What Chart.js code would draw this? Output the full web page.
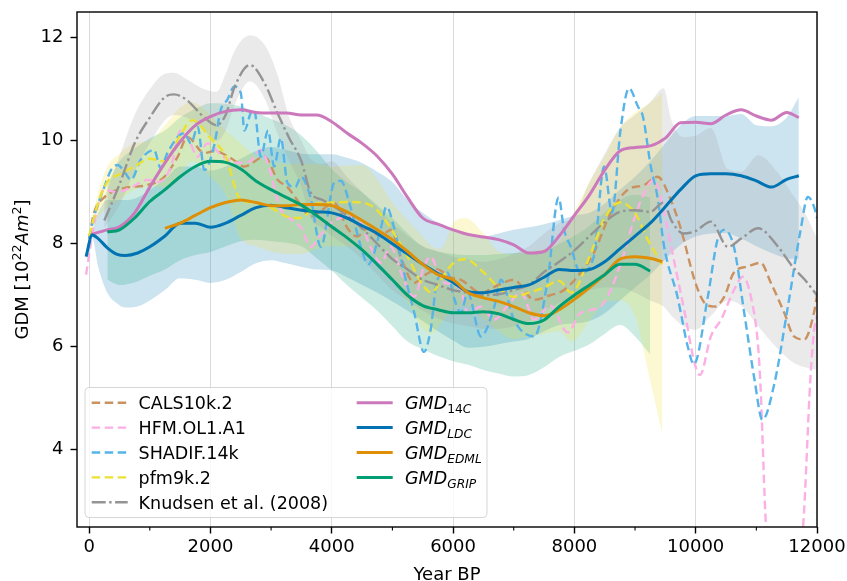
<!DOCTYPE html>
<html>
<head>
<meta charset="utf-8">
<title>GDM over the Holocene</title>
<script src="https://cdn.jsdelivr.net/npm/chart.js@4.4.0/dist/chart.umd.min.js"></script>
<style>
  html, body { margin: 0; padding: 0; background: #fff; }
  #wrap { width: 847px; height: 581px; }
</style>
</head>
<body>
<div id="wrap"><canvas id="gdmChart" width="847" height="581"></canvas></div>
<script>
// ---- axis ticks ----
const yearTicks = [0, 2000, 4000, 6000, 8000, 10000, 12000];
const minorYearTicks = [1000, 3000, 5000, 7000, 9000, 11000];
const gdmTicks = [4, 6, 8, 10, 12];

// ---- field models (years BP, GDM in 10^22 Am^2) ----
const calsYears = [0, 80, 250, 580, 960, 1240, 1460, 1620, 1900, 2060, 2340, 2560, 2890, 3110, 3270, 3430, 3655, 4040, 4260, 4420, 4590, 4800, 4975, 5150, 5360, 5550, 5740, 5950, 6130, 6460, 6750, 7000, 7340, 7600, 7830, 8105, 8320, 8600, 8880, 9150, 9370, 9590, 9760, 9980, 10140, 10310, 10470, 10630, 10860, 11070, 11240, 11460, 11620, 11790, 11950, 12000];
const calsGdm = [8.1, 8.6, 8.9, 9.08, 9.14, 9.3, 9.69, 10.07, 9.76, 9.8, 9.66, 9.5, 9.69, 9.24, 9.1, 8.85, 8.53, 8.79, 8.3, 8.14, 8.3, 8.15, 8.27, 7.7, 7.24, 7.4, 7.5, 7.35, 7.3, 7.05, 7.2, 7.3, 6.91, 7.0, 7.1, 7.44, 7.82, 8.6, 9.05, 9.14, 9.3, 8.85, 8.27, 7.3, 6.86, 6.78, 6.97, 7.44, 7.56, 7.63, 7.24, 6.66, 6.2, 6.14, 6.66, 7.0];

const hfmYears = [-50, 40, 140, 250, 450, 700, 960, 1150, 1350, 1510, 1650, 1790, 1950, 2200, 2450, 2650, 2830, 2940, 3160, 3300, 3500, 3655, 3800, 3985, 4260, 4450, 4640, 4810, 4975, 5140, 5360, 5520, 5630, 5800, 6000, 6130, 6240, 6460, 6680, 6900, 7120, 7340, 7600, 7890, 8105, 8430, 8770, 8930, 9100, 9310, 9480, 9650, 9820, 9980, 10070, 10250, 10420, 10630, 10780, 10910, 11030, 11070, 11160, 11450, 11770, 11890, 11950, 12000];
const hfmGdm = [7.4, 8.1, 8.72, 9.05, 9.0, 9.1, 9.24, 9.2, 9.5, 10.2, 10.0, 9.69, 9.95, 9.7, 9.57, 9.6, 9.82, 9.57, 8.66, 8.5, 8.3, 7.94, 8.15, 8.4, 8.53, 8.45, 7.94, 7.63, 7.94, 7.44, 6.97, 7.56, 7.75, 7.3, 7.2, 7.1, 6.66, 6.78, 6.53, 6.8, 7.05, 6.53, 6.8, 6.28, 6.66, 6.78, 7.63, 8.27, 8.85, 9.24, 8.6, 7.63, 6.66, 5.69, 5.45, 6.2, 6.53, 7.1, 7.36, 6.97, 6.0, 5.2, 2.5, 0.3, 2.5, 5.36, 6.3, 6.6];

const shadifYears = [0, 80, 250, 360, 470, 580, 690, 850, 1070, 1180, 1290, 1460, 1570, 1680, 1790, 1900, 2060, 2170, 2280, 2390, 2500, 2560, 2665, 2720, 2830, 2950, 3050, 3160, 3270, 3400, 3490, 3650, 3820, 4040, 4150, 4300, 4480, 4600, 4810, 4900, 5030, 5200, 5360, 5520, 5630, 5740, 5910, 6010, 6130, 6240, 6460, 6680, 6790, 7000, 7340, 7560, 7740, 7830, 7940, 8100, 8320, 8490, 8620, 8760, 8900, 9050, 9130, 9260, 9370, 9480, 9700, 9870, 9970, 10200, 10360, 10470, 10630, 10800, 10970, 11100, 11300, 11520, 11730, 11850, 11950, 12000];
const shadifGdm = [8.1, 8.52, 9.1, 9.43, 9.53, 9.4, 9.24, 9.63, 9.82, 9.47, 9.76, 10.07, 10.15, 9.95, 10.27, 9.43, 9.9, 10.6, 10.8, 11.05, 10.93, 10.2, 10.54, 10.6, 9.69, 10.2, 9.5, 10.05, 9.18, 9.1, 9.3, 8.9, 7.94, 9.18, 9.22, 8.75, 7.94, 7.6, 8.3, 8.72, 8.3, 7.4, 6.66, 5.9, 6.33, 7.3, 7.44, 6.97, 6.66, 7.05, 6.2, 6.78, 7.3, 6.53, 6.2, 7.3, 8.9, 8.27, 7.94, 7.44, 7.75, 9.5, 8.6, 10.2, 11.02, 10.66, 10.47, 9.5, 8.91, 7.94, 6.97, 6.0, 5.66, 6.97, 8.08, 8.27, 7.94, 6.66, 5.36, 4.58, 5.3, 6.78, 8.27, 8.91, 8.72, 8.5];

const pfmYears = [0, 150, 300, 500, 750, 1000, 1250, 1500, 1700, 2000, 2250, 2500, 2750, 3000, 3250, 3500, 3750, 4000, 4250, 4500, 4750, 5000, 5250, 5500, 5650, 5800, 6000, 6200, 6500, 6750, 7000, 7250, 7500, 7750, 7950, 8250, 8500, 8750, 9000, 9200, 9450];
const pfmGdm = [8.15, 8.8, 9.2, 9.35, 9.5, 9.65, 9.6, 10.1, 10.4, 10.05, 9.7, 8.85, 8.8, 8.7, 8.53, 8.5, 8.78, 8.8, 8.81, 8.8, 8.65, 8.25, 7.75, 7.2, 7.05, 7.3, 7.62, 7.7, 7.45, 7.15, 6.97, 7.05, 7.15, 7.28, 7.05, 7.75, 8.5, 8.8, 8.6, 8.1, 7.6];
const pfmLow = [8.1, 8.5, 8.7, 8.85, 9.05, 9.1, 9.1, 9.35, 9.6, 9.3, 8.95, 8.1, 7.95, 7.85, 7.8, 7.8, 7.9, 7.95, 7.95, 7.9, 7.7, 7.3, 6.85, 6.35, 6.25, 6.45, 6.75, 6.8, 6.55, 6.3, 6.15, 6.2, 6.25, 6.3, 6.1, 6.5, 6.85, 6.9, 6.6, 5.6, 4.3];
const pfmHigh = [8.2, 9.0, 9.5, 9.75, 9.95, 10.0, 10.3, 10.65, 10.75, 10.5, 10.2, 9.95, 9.7, 9.6, 9.55, 9.55, 9.55, 9.5, 9.52, 9.53, 9.25, 8.8, 8.45, 8.14, 7.95, 7.9, 8.4, 8.5, 8.2, 7.85, 7.8, 7.85, 7.9, 8.05, 8.5, 9.2, 9.7, 10.25, 10.55, 10.7, 10.93];

const knudsenYears = [250, 500, 750, 1000, 1250, 1400, 1600, 1900, 2100, 2250, 2400, 2650, 2900, 3100, 3300, 3500, 3650, 3850, 4000, 4250, 4500, 4750, 5000, 5250, 5500, 5750, 6000, 6250, 6500, 6750, 7000, 7250, 7500, 7750, 8000, 8250, 8500, 8750, 9000, 9250, 9470, 9600, 9800, 10000, 10250, 10530, 10750, 11030, 11360, 11600, 11800, 12000];
const knudsenGdm = [8.45, 9.15, 9.95, 10.45, 10.85, 10.9, 10.8, 10.45, 10.3, 10.5, 11.05, 11.47, 11.1, 10.55, 10.05, 9.6, 9.0, 8.85, 8.75, 8.55, 8.3, 8.0, 7.7, 7.5, 7.3, 7.2, 7.1, 7.05, 7.0, 7.02, 7.1, 7.2, 7.45, 7.65, 7.87, 8.15, 8.42, 8.62, 8.65, 8.62, 8.8, 8.45, 8.2, 8.25, 8.43, 7.94, 8.1, 8.3, 7.94, 7.55, 7.3, 7.0];
const knudsenLow = [8.3, 8.75, 9.4, 9.95, 10.4, 10.5, 10.45, 10.2, 10.0, 10.2, 10.7, 11.15, 10.8, 10.15, 9.6, 9.1, 8.5, 8.3, 8.15, 7.95, 7.7, 7.4, 7.1, 6.9, 6.7, 6.55, 6.45, 6.4, 6.35, 6.35, 6.4, 6.5, 6.7, 6.85, 7.0, 7.1, 7.15, 7.15, 7.05, 6.9, 6.78, 6.6, 6.4, 6.33, 6.6, 6.9, 6.8, 6.4, 5.95, 5.7, 5.6, 5.55];
const knudsenHigh = [8.9, 9.7, 10.5, 11.0, 11.3, 11.32, 11.2, 11.0, 10.95, 11.3, 11.75, 12.05, 11.85, 11.3, 10.45, 10.0, 9.65, 9.55, 9.6, 9.3, 9.0, 8.7, 8.4, 8.15, 7.95, 7.85, 7.75, 7.7, 7.65, 7.7, 7.8, 7.95, 8.2, 8.4, 8.55, 9.2, 9.75, 10.25, 10.5, 10.75, 11.02, 10.4, 10.07, 10.1, 10.25, 9.45, 9.4, 9.72, 9.37, 8.95, 8.6, 8.1];

// ---- GMD reconstructions ----
const c14Years = [30, 300, 500, 750, 1000, 1250, 1500, 1750, 2000, 2250, 2500, 2750, 3000, 3250, 3500, 3750, 4000, 4250, 4500, 4750, 5000, 5250, 5500, 5750, 6000, 6250, 6500, 6750, 7000, 7250, 7500, 7750, 8000, 8250, 8500, 8750, 9000, 9250, 9500, 9750, 10000, 10250, 10500, 10750, 11000, 11250, 11500, 11700];
const c14Gdm = [8.18, 8.27, 8.33, 8.6, 9.1, 9.57, 9.98, 10.3, 10.47, 10.57, 10.6, 10.55, 10.54, 10.54, 10.5, 10.5, 10.37, 10.15, 9.95, 9.7, 9.35, 8.9, 8.5, 8.38, 8.27, 8.18, 8.13, 8.08, 7.98, 7.82, 7.85, 8.15, 8.55, 8.95, 9.43, 9.8, 9.87, 9.9, 10.05, 10.35, 10.36, 10.33, 10.5, 10.6, 10.48, 10.4, 10.55, 10.45];

const ldcYears = [-50, 50, 150, 300, 450, 600, 800, 1000, 1250, 1500, 1750, 2000, 2250, 2500, 2750, 3000, 3250, 3500, 3750, 4000, 4250, 4500, 4750, 5000, 5250, 5500, 5750, 6000, 6250, 6500, 6750, 7000, 7250, 7500, 7750, 8000, 8250, 8500, 8750, 9000, 9250, 9500, 9750, 10000, 10250, 10500, 10750, 11000, 11250, 11500, 11700];
const ldcGdm = [7.75, 8.17, 8.1, 7.92, 7.8, 7.77, 7.82, 7.94, 8.15, 8.4, 8.4, 8.32, 8.4, 8.55, 8.7, 8.75, 8.7, 8.65, 8.62, 8.6, 8.5, 8.35, 8.2, 8.0, 7.8, 7.6, 7.42, 7.25, 7.07, 7.05, 7.1, 7.15, 7.2, 7.35, 7.5, 7.48, 7.5, 7.65, 7.9, 8.15, 8.4, 8.72, 9.05, 9.32, 9.36, 9.36, 9.32, 9.22, 9.1, 9.25, 9.32];
const ldcLow = [7.7, 8.1, 7.55, 7.05, 6.85, 6.76, 6.78, 6.9, 7.1, 7.33, 7.3, 7.24, 7.3, 7.45, 7.62, 7.68, 7.62, 7.55, 7.5, 7.48, 7.35, 7.2, 7.05, 6.88, 6.7, 6.5, 6.3, 6.12, 5.98, 6.0, 6.05, 6.1, 6.15, 6.3, 6.42, 6.45, 6.5, 6.65, 6.9, 7.15, 7.4, 7.7, 7.98, 8.14, 8.2, 8.21, 8.1, 7.95, 7.82, 7.72, 7.7];
const ldcHigh = [7.8, 8.22, 8.6, 8.85, 8.85, 8.85, 8.9, 9.05, 9.25, 9.5, 9.5, 9.42, 9.5, 9.65, 9.8, 9.88, 9.82, 9.75, 9.74, 9.74, 9.67, 9.57, 9.4, 9.2, 8.85, 8.6, 8.4, 8.25, 8.17, 8.14, 8.2, 8.27, 8.32, 8.38, 8.46, 8.55, 8.6, 8.78, 9.05, 9.3, 9.6, 9.95, 10.3, 10.48, 10.48, 10.48, 10.52, 10.3, 10.28, 10.45, 10.85];

const edmlYears = [1250, 1500, 1750, 2000, 2250, 2500, 2750, 3000, 3250, 3500, 3750, 4000, 4250, 4500, 4750, 5000, 5250, 5500, 5750, 6000, 6250, 6500, 6750, 7000, 7250, 7500, 7750, 8000, 8250, 8500, 8750, 9000, 9250, 9450];
const edmlGdm = [8.3, 8.4, 8.55, 8.7, 8.8, 8.85, 8.8, 8.74, 8.74, 8.76, 8.76, 8.74, 8.62, 8.45, 8.27, 8.08, 7.85, 7.6, 7.4, 7.3, 7.05, 6.95, 6.88, 6.78, 6.66, 6.6, 6.72, 6.92, 7.15, 7.4, 7.7, 7.75, 7.72, 7.65];

const gripYears = [300, 500, 750, 1000, 1250, 1500, 1750, 2000, 2250, 2500, 2750, 3000, 3250, 3500, 3750, 4000, 4250, 4500, 4750, 5000, 5250, 5500, 5750, 6000, 6250, 6500, 6750, 7000, 7250, 7500, 7750, 8000, 8250, 8500, 8750, 9000, 9250];
const gripGdm = [8.23, 8.27, 8.5, 8.82, 9.05, 9.3, 9.5, 9.6, 9.58, 9.45, 9.22, 9.05, 8.9, 8.75, 8.55, 8.33, 8.12, 7.88, 7.6, 7.3, 7.0, 6.8, 6.72, 6.66, 6.66, 6.68, 6.64, 6.53, 6.45, 6.52, 6.78, 7.0, 7.2, 7.4, 7.6, 7.6, 7.47];
const gripLow = [7.3, 7.2, 7.25, 7.38, 7.5, 7.68, 7.78, 7.84, 7.95, 8.05, 8.08, 8.05, 8.02, 7.95, 7.72, 7.48, 7.2, 6.95, 6.7, 6.4, 6.1, 5.95, 5.82, 5.72, 5.65, 5.55, 5.48, 5.42, 5.45, 5.6, 5.8, 5.92, 6.05, 6.25, 6.42, 6.2, 5.85];
const gripHigh = [9.15, 9.6, 9.85, 10.05, 10.2, 10.45, 10.62, 10.73, 10.72, 10.67, 10.55, 10.42, 10.3, 10.1, 9.8, 9.45, 9.2, 9.0, 8.75, 8.5, 8.2, 7.95, 7.85, 7.8, 7.78, 7.78, 7.8, 7.82, 7.83, 7.85, 8.0, 8.15, 8.35, 8.6, 8.85, 8.95, 8.9];

// ---- styles ----
const FAMILY = '"DejaVu Sans", sans-serif';
const DASH = [8.5, 4.5];
const DASHDOT = [14, 3.5, 2.4, 3.5];
const styles = {
  cals:    { color: '#CA9161', dash: DASH, width: 2.4 },
  hfm:     { color: '#FBAFE4', dash: DASH, width: 2.4 },
  shadif:  { color: '#56B4E9', dash: DASH, width: 2.4 },
  pfm:     { color: '#ECE133', dash: DASH, width: 2.4 },
  knudsen: { color: '#949494', dash: DASHDOT, width: 2.4 },
  c14:     { color: '#CC78BC', dash: [], width: 3 },
  ldc:     { color: '#0173B2', dash: [], width: 3 },
  edml:    { color: '#DE8F05', dash: [], width: 3 },
  grip:    { color: '#029E73', dash: [], width: 3 }
};

function pts(xs, ys) { return xs.map((x, i) => ({ x, y: ys[i] })); }

function band(xs, lo, hi, fillColor) {
  const common = { borderWidth: 0, borderColor: 'transparent', pointRadius: 0, cubicInterpolationMode: 'monotone', order: 50, clip: 0 };
  return [
    { ...common, data: pts(xs, lo), fill: false },
    { ...common, data: pts(xs, hi), fill: '-1', backgroundColor: fillColor }
  ];
}

function curve(xs, ys, st, order) {
  return {
    data: pts(xs, ys), borderColor: st.color, borderWidth: st.width, borderDash: st.dash,
    pointRadius: 0, fill: false, cubicInterpolationMode: 'monotone', borderJoinStyle: 'round',
    order, clip: 0
  };
}

const datasets = [
  ...band(knudsenYears, knudsenLow, knudsenHigh, 'rgba(148,148,148,0.2)'),
  ...band(pfmYears, pfmLow, pfmHigh, 'rgba(236,225,51,0.22)'),
  ...band(gripYears, gripLow, gripHigh, 'rgba(2,158,115,0.2)'),
  ...band(ldcYears, ldcLow, ldcHigh, 'rgba(1,115,178,0.2)'),
  curve(calsYears, calsGdm, styles.cals, 20),
  curve(hfmYears, hfmGdm, styles.hfm, 19),
  curve(shadifYears, shadifGdm, styles.shadif, 18),
  curve(pfmYears, pfmGdm, styles.pfm, 17),
  curve(knudsenYears, knudsenGdm, styles.knudsen, 16),
  curve(c14Years, c14Gdm, styles.c14, 10),
  curve(ldcYears, ldcGdm, styles.ldc, 9),
  curve(edmlYears, edmlGdm, styles.edml, 8),
  curve(gripYears, gripGdm, styles.grip, 7)
];

// ---- text helpers: runs of normal / italic / shifted, smaller text ----
function runFont(p, base) {
  return `${p.italic ? 'italic ' : ''}${base * (p.scale || 1)}px ${FAMILY}`;
}
function richWidth(ctx, parts, base) {
  return parts.reduce((w, p) => { ctx.font = runFont(p, base); return w + ctx.measureText(p.text).width; }, 0);
}
function drawRich(ctx, parts, x, y, base) {
  parts.forEach(p => {
    ctx.font = runFont(p, base);
    ctx.fillText(p.text, x, y + (p.dy || 0));
    x += ctx.measureText(p.text).width;
  });
}

const sub = t => ({ text: t, scale: 0.7, dy: 3.5 });
const subIt = t => ({ text: t, scale: 0.7, dy: 3.5, italic: true });
const yTitle = [{ text: 'GDM [10' }, { text: '22', scale: 0.7, dy: -7.5 }, { text: 'Am', italic: true }, { text: '2', scale: 0.7, dy: -7.5 }, { text: ']' }];

const legendCols = [
  { handleX: 91.7, textX: 138.6, items: [
    { st: styles.cals, label: [{ text: 'CALS10k.2' }] },
    { st: styles.hfm, label: [{ text: 'HFM.OL1.A1' }] },
    { st: styles.shadif, label: [{ text: 'SHADIF.14k' }] },
    { st: styles.pfm, label: [{ text: 'pfm9k.2' }] },
    { st: styles.knudsen, label: [{ text: 'Knudsen et al. (2008)' }] }
  ]},
  { handleX: 356.7, textX: 405, items: [
    { st: styles.c14, label: [{ text: 'GMD', italic: true }, sub('14'), subIt('C')] },
    { st: styles.ldc, label: [{ text: 'GMD', italic: true }, subIt('LDC')] },
    { st: styles.edml, label: [{ text: 'GMD', italic: true }, subIt('EDML')] },
    { st: styles.grip, label: [{ text: 'GMD', italic: true }, subIt('GRIP')] }
  ]}
];

function drawLegend(ctx) {
  const box = { x: 85, y: 387.5, w: 402, h: 130, r: 4 };
  ctx.save();
  ctx.beginPath();
  ctx.roundRect(box.x, box.y, box.w, box.h, box.r);
  ctx.fillStyle = 'rgba(255,255,255,0.8)';
  ctx.fill();
  ctx.strokeStyle = 'rgba(204,204,204,0.8)';
  ctx.lineWidth = 1;
  ctx.stroke();
  ctx.textBaseline = 'alphabetic';
  ctx.textAlign = 'left';
  ctx.fillStyle = '#000';
  legendCols.forEach(col => {
    col.items.forEach((it, i) => {
      const base = 409.3 + i * 24.9;
      ctx.beginPath();
      ctx.setLineDash(it.st.dash);
      ctx.lineWidth = it.st.width;
      ctx.strokeStyle = it.st.color;
      ctx.moveTo(col.handleX, base - 6.6);
      ctx.lineTo(col.handleX + 36, base - 6.6);
      ctx.stroke();
      ctx.setLineDash([]);
      drawRich(ctx, it.label, col.textX, base, 17.5);
    });
  });
  ctx.restore();
}

const decorations = {
  id: 'decorations',
  afterDraw(chart) {
    const { ctx, chartArea: a, scales } = chart;
    ctx.save();
    ctx.strokeStyle = '#000';
    ctx.lineWidth = 1.1;
    minorYearTicks.forEach(v => {
      const px = scales.x.getPixelForValue(v);
      ctx.beginPath();
      ctx.moveTo(px, a.bottom);
      ctx.lineTo(px, a.bottom + 3.6);
      ctx.stroke();
    });
    ctx.lineWidth = 1.4;
    ctx.strokeRect(a.left, a.top, a.right - a.left, a.bottom - a.top);

    ctx.fillStyle = '#000';
    ctx.textBaseline = 'alphabetic';
    ctx.textAlign = 'center';
    ctx.font = `18px ${FAMILY}`;
    ctx.fillText('Year BP', (a.left + a.right) / 2, 579.5);

    ctx.textAlign = 'left';
    ctx.translate(28.3, (a.top + a.bottom) / 2);
    ctx.rotate(-Math.PI / 2);
    drawRich(ctx, yTitle, -richWidth(ctx, yTitle, 18) / 2, 0, 18);
    ctx.restore();

    drawLegend(ctx);
  }
};

const tickFont = { family: FAMILY, size: 18 };

new Chart(document.getElementById('gdmChart'), {
  type: 'line',
  data: { datasets },
  plugins: [decorations],
  options: {
    responsive: false,
    devicePixelRatio: 1,
    animation: false,
    events: [],
    layout: { padding: { left: 0, top: 12, right: 30, bottom: 0 } },
    plugins: { legend: { display: false }, tooltip: { enabled: false } },
    scales: {
      x: {
        type: 'linear', min: -200, max: 12000,
        afterBuildTicks: s => { s.ticks = yearTicks.map(v => ({ value: v })); },
        afterFit: s => { s.height = 54; s.paddingLeft = 0; s.paddingRight = 0; },
        grid: { color: 'rgba(176,176,176,0.45)', lineWidth: 1, tickLength: 6.5, tickColor: '#000', tickWidth: 1.4 },
        border: { display: false },
        ticks: { font: tickFont, color: '#000', padding: 3, maxRotation: 0, autoSkip: false, callback: v => String(v) }
      },
      y: {
        type: 'linear', min: 2.5, max: 12.5,
        afterBuildTicks: s => { s.ticks = gdmTicks.map(v => ({ value: v })); },
        afterFit: s => { s.width = 77; s.paddingTop = 0; s.paddingBottom = 0; },
        grid: { drawOnChartArea: false, tickLength: 6.5, tickColor: '#000', tickWidth: 1.4 },
        border: { display: false },
        ticks: { font: tickFont, color: '#000', padding: 7, callback: v => String(v) }
      }
    }
  }
});
</script>
</body>
</html>
